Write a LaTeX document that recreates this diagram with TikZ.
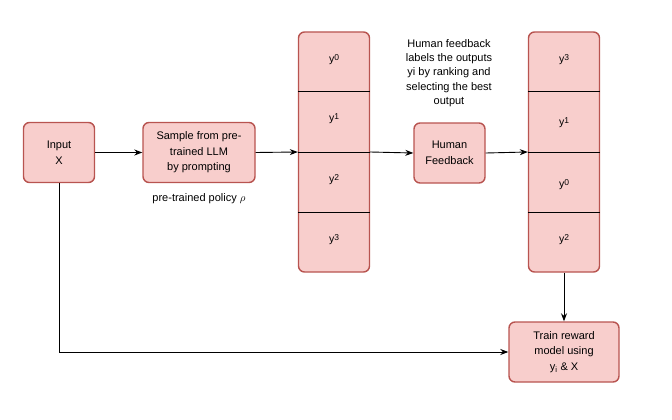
\documentclass[tikz,border=0pt]{standalone}
\usepackage{fontspec}
\setmainfont{Liberation Sans}
\usetikzlibrary{arrows.meta,calc}
\definecolor{boxfill}{HTML}{F8CECC}
\definecolor{boxdraw}{HTML}{B85450}
\begin{document}
\begin{tikzpicture}[x=1pt,y=-1pt,
  box/.style={draw=boxdraw,fill=boxfill,line width=1.4pt,rounded corners=6pt,align=center,font=\fontsize{11}{15.5}\selectfont,inner sep=0pt},
  colbox/.style={box,minimum width=71pt,minimum height=240pt},
  arr/.style={-{Stealth[length=8pt,width=6pt]},line width=0.9pt,black},
  lab/.style={font=\fontsize{10.5}{12}\selectfont},
  note/.style={align=center,font=\fontsize{11}{14.2}\selectfont}]
\useasboundingbox (0,0) rectangle (672,420);
\newcommand{\yy}[1]{y\raisebox{0.35ex}{\fontsize{8.5}{8.5}\selectfont #1}}
% boxes
\node[box,minimum width=71pt,minimum height=60pt] (input) at (59,152.5) {Input\\X};
\node[box,minimum width=112pt,minimum height=60pt] (sample) at (199,152.5) {Sample from pre-\\trained LLM\\by prompting};
\node[note] (policy) at (199,199) {pre-trained policy $\rho$};
\node[colbox] (col1) at (334,152) {};
\node[box,minimum width=71pt,minimum height=60pt] (hf) at (449.5,153) {Human\\Feedback};
\node[note] (hfnote) at (449,73) {Human feedback\\labels the outputs\\yi by ranking and\\selecting the best\\output};
\node[colbox] (col2) at (564,152) {};
\node[box,minimum width=110pt,minimum height=60pt] (train) at (564,352) {Train reward\\model using\\y$_\mathrm{i}$ \& X};
% dividers
\foreach \c in {col1,col2}{
  \foreach \f in {0.25,0.5,0.75}{
    \draw[line width=0.6pt] ($(\c.north west)!\f!(\c.south west)$) -- ($(\c.north east)!\f!(\c.south east)$);
  }
}
% labels
\node[lab] (a0) at (334,60) {\yy{0}};
\node[lab] (a1) at (334,119) {\yy{1}};
\node[lab] (a2) at (334,180) {\yy{2}};
\node[lab] (a3) at (334,240) {\yy{3}};
\node[lab] (b3) at (564,60) {\yy{3}};
\node[lab] (b1) at (564,123) {\yy{1}};
\node[lab] (b0) at (564,185) {\yy{0}};
\node[lab] (b2) at (564,240) {\yy{2}};
% connectors
\draw[arr] (input.east) -- (sample.west);
\draw[arr] (sample.east) -- (col1.west);
\draw[arr] (col1.east) -- (hf.west);
\draw[arr] (hf.east) -- (col2.west);
\draw[arr] (col2.south) -- (train.north);
\draw[arr] (input.south) |- (train.west);
\end{tikzpicture}
\end{document}
